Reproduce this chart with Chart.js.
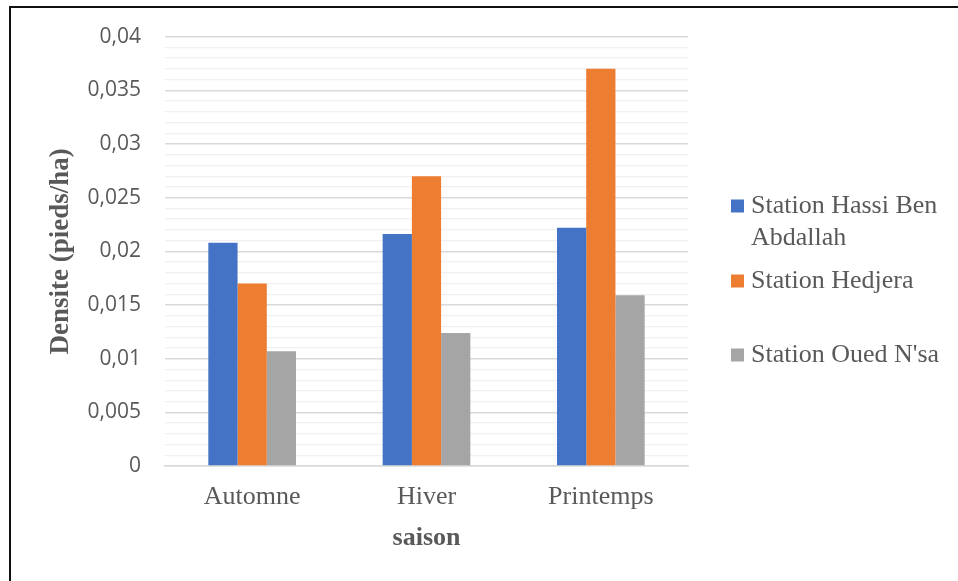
<!DOCTYPE html>
<html>
<head>
<meta charset="utf-8">
<script src="https://cdn.jsdelivr.net/npm/chart.js@4"></script>
<style>
  html, body { margin: 0; padding: 0; background: #ffffff; }
  #wrap { position: relative; width: 958px; height: 581px; }
  canvas { display: block; }
</style>
</head>
<body>
<div id="wrap"><canvas id="c" width="958" height="581"></canvas></div>
<script>
// Seasons on the x axis
const categories = ['Automne', 'Hiver', 'Printemps'];

// Plant density per station (pieds/ha)
const hassiBenAbdallah = [0.0208, 0.0216, 0.0222];
const hedjera = [0.017, 0.027, 0.037];
const ouedNsa = [0.0107, 0.0124, 0.0159];

// Series names
const seriesNames = ['Station Hassi Ben Abdallah', 'Station Hedjera', "Station Oued N'sa"];

// Y axis range and steps
const yMin = 0;
const yMax = 0.04;
const minorStep = 0.001;
const majorStep = 0.005;

const TEXT = '#595959';
const SERIF = '"Liberation Serif", "Times New Roman", serif';
const SANS = '"Open Sans", "Liberation Sans", sans-serif';

function isMajor(v) {
  const r = v / majorStep;
  return Math.abs(r - Math.round(r)) < 1e-6;
}
function fmt(v) {
  return String(Math.round(v * 1000000) / 1000000).replace('.', ',');
}

// Right-hand legend with wrapped labels
const sideLegend = {
  id: 'sideLegend',
  afterDraw(chart) {
    const ctx = chart.ctx;
    const boxX = 731, box = 13, textX = 751, maxW = 205, lineH = 32;
    const rows = [206, 281, 355];
    ctx.save();
    ctx.font = '26px ' + SERIF;
    ctx.textBaseline = 'middle';
    ctx.textAlign = 'left';
    chart.data.datasets.forEach((ds, i) => {
      const y = rows[i];
      ctx.fillStyle = ds.backgroundColor;
      ctx.fillRect(boxX, y - box / 2, box, box);
      // word wrap
      const words = ds.label.split(' ');
      const lines = [];
      let cur = '';
      words.forEach(w => {
        const test = cur ? cur + ' ' + w : w;
        if (ctx.measureText(test).width > maxW && cur) { lines.push(cur); cur = w; }
        else cur = test;
      });
      if (cur) lines.push(cur);
      ctx.fillStyle = TEXT;
      lines.forEach((ln, k) => ctx.fillText(ln, textX, y + k * lineH));
    });
    // chart frame (left and top edges)
    ctx.strokeStyle = '#111111';
    ctx.lineWidth = 2;
    ctx.beginPath();
    ctx.moveTo(10, 581);
    ctx.lineTo(10, 7);
    ctx.lineTo(958, 7);
    ctx.stroke();
    ctx.restore();
  }
};

new Chart(document.getElementById('c'), {
  type: 'bar',
  data: {
    labels: categories,
    datasets: [
      { label: seriesNames[0], data: hassiBenAbdallah, backgroundColor: '#4472C4' },
      { label: seriesNames[1], data: hedjera, backgroundColor: '#ED7D31' },
      { label: seriesNames[2], data: ouedNsa, backgroundColor: '#A5A5A5' }
    ]
  },
  options: {
    responsive: false,
    animation: false,
    devicePixelRatio: 1,
    layout: { padding: { left: 10, top: 36, right: 270, bottom: 0 } },
    datasets: {
      bar: { barPercentage: 1, categoryPercentage: 0.503, borderWidth: 0 }
    },
    plugins: {
      legend: { display: false },
      tooltip: { enabled: false }
    },
    scales: {
      x: {
        grid: { display: false, drawTicks: false },
        border: { display: true, color: '#d9d9d9', width: 1.5 },
        ticks: { color: TEXT, font: { family: SERIF, size: 26 }, padding: 16, maxRotation: 0 },
        title: {
          display: true, text: 'saison', color: TEXT,
          font: { family: SERIF, size: 26, weight: 'bold' },
          padding: { top: 0, bottom: 27 }
        },
        afterFit(scale) { scale.height = 115; }
      },
      y: {
        min: yMin, max: yMax,
        border: { display: false },
        grid: {
          drawTicks: false,
          color: c => isMajor(c.tick.value) ? '#d9d9d9' : '#f0f0f0',
          lineWidth: c => isMajor(c.tick.value) ? 1.5 : 1.2
        },
        ticks: {
          stepSize: minorStep,
          autoSkip: false,
          padding: 24,
          color: TEXT,
          font: { family: SANS, size: 21 },
          callback: v => isMajor(v) ? fmt(v) : ''
        },
        title: {
          display: true, text: 'Densite (pieds/ha)', color: TEXT,
          font: { family: SERIF, size: 27, weight: 'bold' },
          padding: { top: 35, bottom: 0 }
        },
        afterFit(scale) { scale.width = 155; }
      }
    }
  },
  plugins: [sideLegend]
});
</script>
</body>
</html>
